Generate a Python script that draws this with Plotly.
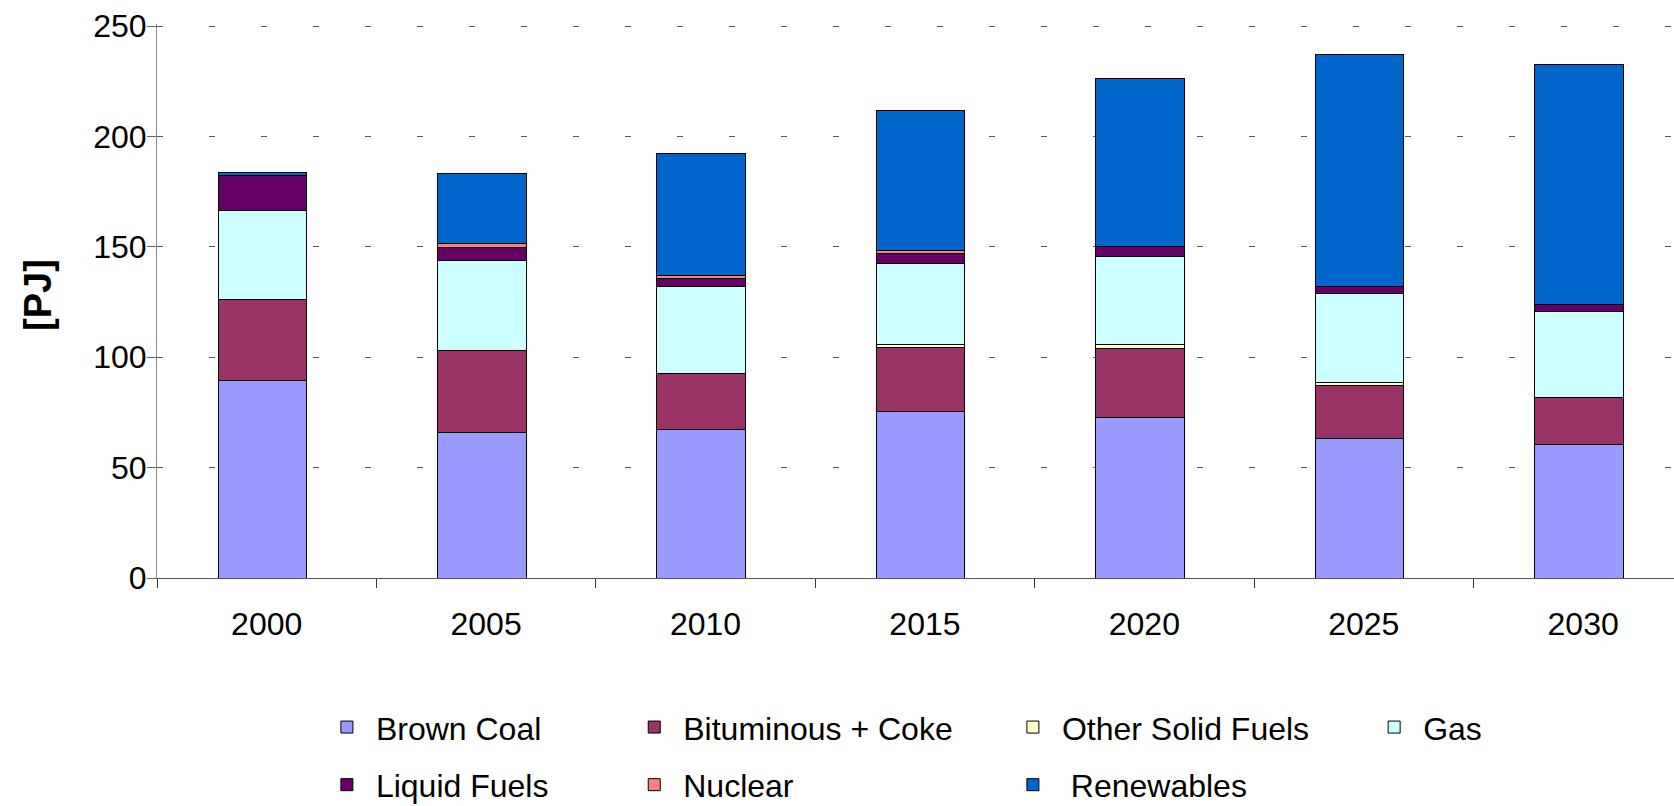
import plotly.graph_objects as go

# values, in PJ
years = ["2000", "2005", "2010", "2015", "2020", "2025", "2030"]
brown_coal = [89.6, 65.9, 67.3, 75.6, 72.9, 63.1, 60.7]
bituminous_coke = [36.5, 37.0, 25.4, 28.8, 31.3, 24.2, 21.1]
other_solid = [0, 0, 0, 1.4, 1.5, 1.5, 0]
gas = [40.5, 41.1, 39.2, 36.9, 39.8, 40.1, 38.9]
liquid_fuels = [15.6, 5.7, 3.8, 4.3, 4.6, 3.0, 3.0]
nuclear = [0, 1.7, 1.5, 1.4, 0, 0, 0]
renewables = [1.6, 32.0, 55.0, 63.3, 76.0, 105.3, 109.0]

FONT = "Liberation Sans, Arial, sans-serif"

# (name, values, colour, legend)
series = [
    ("Brown Coal", brown_coal, "#9999FF", "legend"),
    ("Bituminous + Coke", bituminous_coke, "#993366", "legend2"),
    ("Other Solid Fuels", other_solid, "#FFFFCC", "legend3"),
    ("Gas", gas, "#CCFFFF", "legend4"),
    ("Liquid Fuels", liquid_fuels, "#660066", "legend"),
    ("Nuclear", nuclear, "#FF8080", "legend2"),
    (" Renewables", renewables, "#0066CC", "legend3"),
]

fig = go.Figure()
for i, (name, vals, col, leg) in enumerate(series):
    fig.add_trace(go.Bar(
        x=years, y=vals, name=name,
        width=0.404, offset=-0.222,
        marker=dict(color=col, line=dict(color="black", width=1)),
        legend=leg, legendgroup=str(i),
    ))


def legend_box(x):
    return dict(
        x=x, y=0.1318, xref="container", yref="container",
        xanchor="left", yanchor="top",
        orientation="v", itemwidth=48, tracegroupgap=13,
        font=dict(family=FONT, size=32, color="black"),
        bgcolor="rgba(0,0,0,0)",
    )


fig.update_layout(
    width=1674, height=806,
    barmode="stack",
    plot_bgcolor="white", paper_bgcolor="white",
    margin=dict(l=157, r=0, t=24, b=228, autoexpand=False),
    font=dict(family=FONT, size=32, color="black"),
    showlegend=True,
    legend=legend_box(0.1899),
    legend2=legend_box(0.3735),
    legend3=legend_box(0.5997),
    legend4=legend_box(0.8155),
    annotations=[dict(
        text="<b>[PJ]</b>", textangle=-90, showarrow=False,
        xref="paper", yref="paper", x=-0.0784, y=0.511,
        xanchor="center", yanchor="middle",
        font=dict(family=FONT, size=38, color="black"),
    )],
)

fig.update_xaxes(
    type="category", range=[-0.5, 6.414],
    showline=True, linecolor="#555555", linewidth=1,
    ticks="outside", tickson="boundaries", ticklen=9, tickcolor="#333333",
    ticklabelstandoff=18,
    showgrid=False,
    tickfont=dict(family=FONT, size=32, color="black"),
)
fig.update_yaxes(
    range=[0, 251], tickvals=[0, 50, 100, 150, 200, 250],
    showline=True, linecolor="#888888", linewidth=1,
    ticks="outside", ticklen=9, tickcolor="#666666",
    ticklabelstandoff=-6,
    showgrid=True, gridcolor="#555555", gridwidth=1, griddash="6px,46px",
    zeroline=False,
    tickfont=dict(family=FONT, size=32, color="black"),
)

fig.write_html("out.html", config={"displayModeBar": False},
               post_script="document.body.style.margin='0';")
